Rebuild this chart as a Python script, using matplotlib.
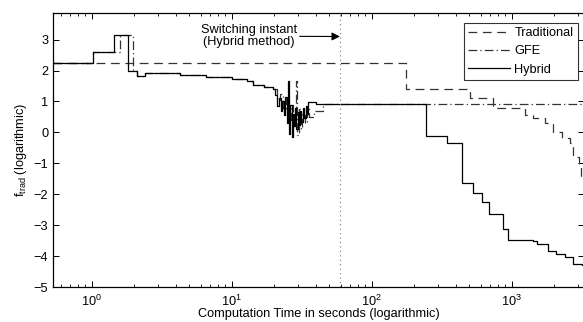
import matplotlib
matplotlib.use("Agg")
import matplotlib.pyplot as plt
from matplotlib.ticker import LogLocator, NullFormatter

plt.rcParams['font.family'] = ['Liberation Sans', 'DejaVu Sans']

# Traditional method (dashed)
trad_t = [0.53, 176, 505, 735, 1250, 1420, 1730, 1970, 2290, 2610, 2740, 3020, 3130, 3300]
trad_f = [2.25, 1.40, 1.11, 0.80, 0.57, 0.48, 0.31, 0.02, -0.18, -0.34, -0.80, -1.10, -1.43, -1.60]

# GFE (dash-dot)
gfe_t = [0.53, 1.03, 1.60, 1.97, 2.12, 2.40, 4.3, 6.6, 10.0, 12.8, 14.2, 17.0, 19.7, 21.0, 22.2,
         23.4, 24.4, 25.6, 26.6, 27.6, 28.9, 29.5, 30.3, 31.2, 32.1, 33.2, 34.5, 36.0, 39.0, 45.0, 3300]
gfe_f = [2.25, 2.59, 3.15, 1.97, 1.81, 1.92, 1.86, 1.80, 1.74, 1.65, 1.54, 1.48, 1.41, 1.05, 1.25,
         0.75, 1.10, 0.40, 0.90, 0.20, 1.67, -0.10, 0.75, 0.10, 0.60, 0.30, 0.80, 0.50, 0.68, 0.92, 0.93]

# Hybrid (solid)
hyb_t = [0.53, 1.03, 1.44, 1.81, 2.12, 2.40, 4.3, 6.6, 10.0, 12.8, 14.2, 17.0, 19.7, 20.5, 21.0,
         21.8, 22.5, 23.0, 23.6, 24.2, 24.8, 25.3, 25.6, 26.2, 26.8, 27.3, 27.9, 28.5, 29.0, 29.6,
         30.2, 30.8, 31.5, 32.2, 33.0, 33.8, 34.6, 35.2, 40.0, 60.0, 246, 345, 443, 526, 611, 692,
         862, 946, 1427, 1510, 1820, 2090, 2400, 2760, 3170, 3300]
hyb_f = [2.25, 2.59, 3.15, 1.97, 1.81, 1.92, 1.86, 1.80, 1.74, 1.65, 1.54, 1.48, 1.41, 1.20, 0.85,
         1.10, 0.70, 1.00, 0.55, 1.15, 0.30, 1.67, -0.05, 0.90, -0.15, 0.60, 0.20, 0.80, 0.10, 0.65,
         0.25, 0.70, 0.35, 0.80, 0.45, 0.85, 0.60, 0.97, 0.92, 0.93, -0.13, -0.34, -1.64, -1.96, -2.26, -2.63,
         -3.13, -3.48, -3.52, -3.60, -3.82, -3.93, -4.04, -4.25, -4.29, -4.30]

switch_t = 59.4

FS = 9.2

fig = plt.figure(figsize=(5.83, 3.22), dpi=100)
ax = fig.add_axes([53/583, 1 - 287/322, 1.002 - 53/583, (287 - 13)/322])

ax.step(trad_t, trad_f, where='post', color='#333333', lw=0.9, ls=(0, (7, 4.5)), label='Traditional')
ax.step(gfe_t, gfe_f, where='post', color='#333333', lw=0.9, ls=(0, (7, 2.5, 1, 2.5)), label='GFE')
ax.step(hyb_t, hyb_f, where='post', color='black', lw=0.9, label='Hybrid')

ax.axvline(switch_t, color='#777777', lw=0.8, ls=(0, (1, 3)))

ax.annotate('Switching instant\n(Hybrid method)', xy=(switch_t, 3.1), xytext=(13.3, 3.11),
            ha='center', va='center', fontsize=FS, linespacing=1.0,
            arrowprops=dict(arrowstyle='-|>', color='black', lw=0.8,
                            shrinkA=0, shrinkB=0, mutation_scale=12),
            )

ax.set_xscale('log')
ax.set_xlim(0.53, 3300)
ax.set_ylim(-5, 3.86)
ax.set_yticks([-5, -4, -3, -2, -1, 0, 1, 2, 3])
ax.set_yticklabels(['\u22125', '\u22124', '\u22123', '\u22122', '\u22121', '0', '1', '2', '3'])
ax.xaxis.set_minor_locator(LogLocator(base=10, subs=range(2, 10), numticks=20))
ax.xaxis.set_minor_formatter(NullFormatter())
ax.tick_params(which='both', direction='in', top=True, right=True, labelsize=FS)
ax.tick_params(axis='x', which='major', pad=5)
ax.tick_params(which='major', length=4, width=0.7)
ax.tick_params(which='minor', length=2, width=0.6)
for s in ax.spines.values():
    s.set_linewidth(0.9)

ax.set_xlabel('Computation Time in seconds (logarithmic)', fontsize=FS, labelpad=-1)
ax.set_ylabel(r'$\mathregular{f_{trad}}$ (logarithmic)', fontsize=FS, labelpad=3)

leg = ax.legend(loc='upper right', bbox_to_anchor=(0.988, 0.965), fontsize=FS, handlelength=3.3,
                frameon=True, fancybox=False, edgecolor='black', borderpad=0.35,
                labelspacing=0.5, handletextpad=0.3, borderaxespad=0)
leg.get_frame().set_linewidth(0.8)

fig.savefig('out.png', dpi=100)
